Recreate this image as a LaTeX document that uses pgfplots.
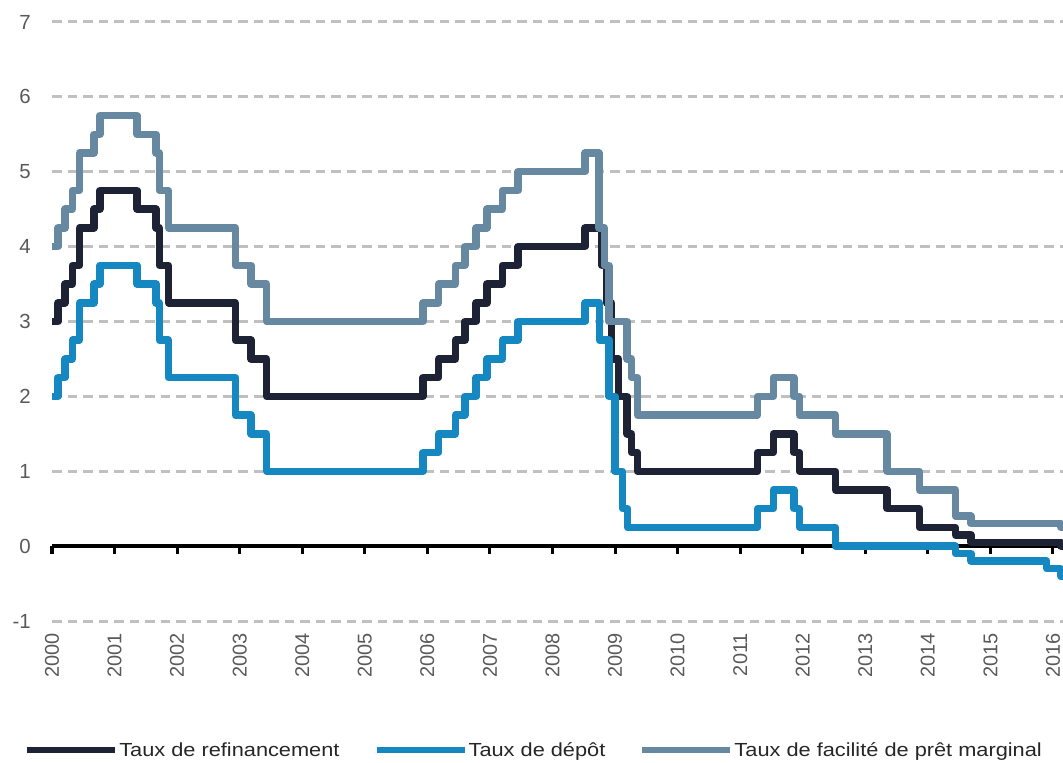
\documentclass[border=0pt]{standalone}
\usepackage{fontspec}
\setmainfont{Liberation Sans}
\newfontfamily\legfont[FakeStretch=1.15]{Liberation Sans}
\usepackage{pgfplots}
\usepackage{pgfplotstable}
\pgfplotsset{compat=1.18}
\definecolor{refi}{HTML}{1E2235}
\definecolor{depot}{HTML}{1587C1}
\definecolor{marg}{HTML}{6689A1}
\definecolor{gridc}{HTML}{C0C0C0}
\definecolor{labc}{HTML}{595959}

\pgfplotstableread{
x y
2000.0 3.00
2000.095 3.25
2000.21 3.50
2000.325 3.75
2000.44 4.25
2000.67 4.50
2000.765 4.75
2001.36 4.50
2001.665 4.25
2001.715 3.75
2001.86 3.25
2002.93 2.75
2003.18 2.50
2003.43 2.00
2005.93 2.25
2006.18 2.50
2006.45 2.75
2006.60 3.00
2006.78 3.25
2006.95 3.50
2007.20 3.75
2007.45 4.00
2008.52 4.25
2008.79 3.75
2008.865 3.25
2008.94 2.50
2009.055 2.00
2009.19 1.50
2009.265 1.25
2009.36 1.00
2011.28 1.25
2011.53 1.50
2011.86 1.25
2011.95 1.00
2012.525 0.75
2013.35 0.50
2013.865 0.25
2014.44 0.15
2014.69 0.05
2016.13 0.00
2016.16 0.00
}\refitable

\pgfplotstableread{
x y
2000.0 2.00
2000.095 2.25
2000.21 2.50
2000.325 2.75
2000.44 3.25
2000.67 3.50
2000.765 3.75
2001.36 3.50
2001.665 3.25
2001.715 2.75
2001.86 2.25
2002.93 1.75
2003.18 1.50
2003.43 1.00
2005.93 1.25
2006.18 1.50
2006.45 1.75
2006.60 2.00
2006.78 2.25
2006.95 2.50
2007.20 2.75
2007.45 3.00
2008.52 3.25
2008.75 2.75
2008.90 2.00
2009.0 1.00
2009.12 0.50
2009.20 0.25
2011.28 0.50
2011.53 0.75
2011.86 0.50
2011.95 0.25
2012.525 0.00
2014.44 -0.10
2014.69 -0.20
2015.90 -0.30
2016.12 -0.40
2016.16 -0.40
}\depottable

\pgfplotstableread{
x y
2000.0 4.00
2000.095 4.25
2000.21 4.50
2000.325 4.75
2000.44 5.25
2000.67 5.50
2000.765 5.75
2001.36 5.50
2001.665 5.25
2001.715 4.75
2001.86 4.25
2002.93 3.75
2003.18 3.50
2003.43 3.00
2005.93 3.25
2006.18 3.50
2006.45 3.75
2006.60 4.00
2006.78 4.25
2006.95 4.50
2007.20 4.75
2007.45 5.00
2008.52 5.25
2008.74 4.25
2008.83 3.75
2008.90 3.00
2009.19 2.50
2009.265 2.25
2009.36 1.75
2011.28 2.00
2011.53 2.25
2011.86 2.00
2011.95 1.75
2012.525 1.50
2013.35 1.00
2013.865 0.75
2014.44 0.40
2014.69 0.30
2016.13 0.25
2016.16 0.25
}\margtable

\pgfplotstableread{
x y
2000 -0.1
2001 -0.1
2002 -0.1
2003 -0.1
2004 -0.1
2005 -0.1
2006 -0.1
2007 -0.1
2008 -0.1
2009 -0.1
2010 -0.1
2011 -0.1
2012 -0.1
2013 -0.1
2014 -0.1
2015 -0.1
2016 -0.1
}\ticktable

\begin{document}
\begin{tikzpicture}
\begin{axis}[
  at={(0,0)}, anchor=south west,
  scale only axis,
  width=1011bp, height=599bp,
  xmin=2000, xmax=2016.16,
  ymin=-1, ymax=7,
  clip=false,
  axis line style={draw=none},
  tick style={draw=none},
  xtick={2000,2001,2002,2003,2004,2005,2006,2007,2008,2009,2010,2011,2012,2013,2014,2015,2016},
  xticklabels={2000,2001,2002,2003,2004,2005,2006,2007,2008,2009,2010,2011,2012,2013,2014,2015,2016},
  ytick={-1,0,1,2,3,4,5,6,7},
  yticklabels={-1,0,1,2,3,4,5,6,7},
  xticklabel style={rotate=90, anchor=east, inner sep=0pt, font=\fontsize{20}{24}\selectfont, text=labc},
  yticklabel style={anchor=east, inner sep=0pt, font=\fontsize{20.5}{24}\selectfont, text=labc},
  xticklabel shift=12bp,
  yticklabel shift=21bp,
  ymajorgrids,
  major grid style={gridc, line width=3bp, dash pattern=on 9.5bp off 6bp},
  legend columns=3,
  legend style={draw=none, fill=none, inner sep=0pt, outer sep=0pt,
    at={(axis description cs:-0.0277,-0.2154)}, anchor=west,
    font=\legfont\fontsize{19}{22}\selectfont, text=black!85,
    nodes={inner sep=0.8bp},
    /tikz/every even column/.append style={column sep=33bp}},
  legend image code/.code={\draw[#1, line width=6.5bp] (0bp,0bp) -- (88bp,0bp);},
]
\addplot[black, line width=4bp, forget plot] coordinates {(2000,0) (2016.16,0)};
\addplot[black, line width=3bp, ycomb, forget plot] table[x=x,y=y] {\ticktable};
\addplot[refi, line width=7.5bp, const plot, line join=round] table[x=x,y=y] {\refitable};
\addlegendentry{Taux de refinancement}
\addplot[depot, line width=7.5bp, const plot, line join=round] table[x=x,y=y] {\depottable};
\addlegendentry{Taux de dépôt}
\addplot[marg, line width=7.5bp, const plot, line join=round] table[x=x,y=y] {\margtable};
\addlegendentry{Taux de facilité de prêt marginal}
\end{axis}
\pgfresetboundingbox
\useasboundingbox (-52bp,-142bp) rectangle (1011bp,621bp);
\end{tikzpicture}
\end{document}
